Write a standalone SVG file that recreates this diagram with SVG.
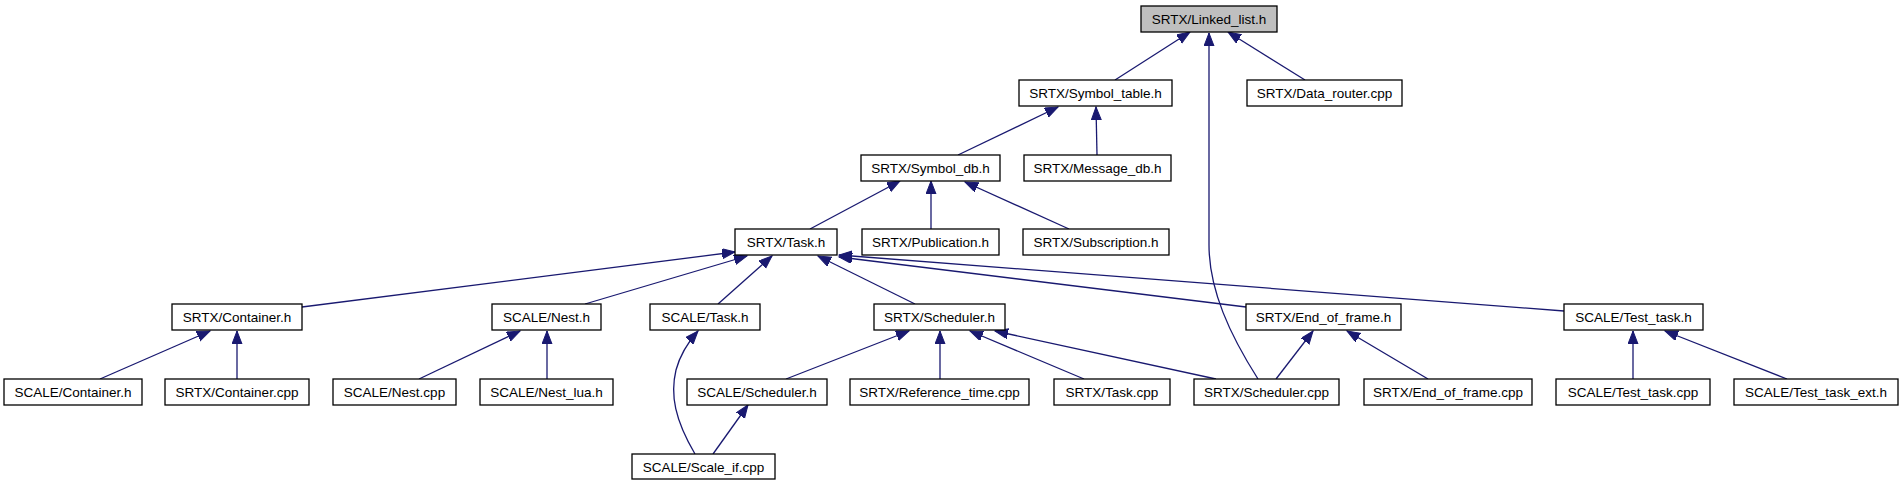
<svg xmlns="http://www.w3.org/2000/svg" width="1903" height="485" viewBox="0 0 1903 485">
<style>
.n rect{fill:#ffffff;stroke:#000000;stroke-width:1.3}
.n.root rect{fill:#bfbfbf}
.n text{font-family:"Liberation Sans",Arial,sans-serif;font-size:13.5px;fill:#000000;text-anchor:middle}
.e path{fill:none;stroke:#191970;stroke-width:1.3}
</style>
<defs>
<marker id="ah" markerUnits="userSpaceOnUse" markerWidth="16" markerHeight="12" refX="13" refY="5" orient="auto">
<path d="M0,0 L13,5 L0,10 z" fill="#191970" stroke="#191970" stroke-width="1"/>
</marker>
</defs>
<rect width="1903" height="485" fill="#ffffff"/>
<g id="edges" class="e">
<path marker-end="url(#ah)" d="M1115,80 L1190,32"/>
<path marker-end="url(#ah)" d="M1258,379 C1230,335 1209,290 1209,245 L1209,33"/>
<path marker-end="url(#ah)" d="M1305,80 L1228,32"/>
<path marker-end="url(#ah)" d="M958,155 L1058,107"/>
<path marker-end="url(#ah)" d="M1097,155 L1096,107"/>
<path marker-end="url(#ah)" d="M810,229 L900,181"/>
<path marker-end="url(#ah)" d="M931,229 L931,181"/>
<path marker-end="url(#ah)" d="M1069,229 L965,182"/>
<path marker-end="url(#ah)" d="M302,307 L735,252"/>
<path marker-end="url(#ah)" d="M585,304 L747,256"/>
<path marker-end="url(#ah)" d="M718,304 L772,256"/>
<path marker-end="url(#ah)" d="M915,304 L818,256"/>
<path marker-end="url(#ah)" d="M1246,307 L839,257"/>
<path marker-end="url(#ah)" d="M1564,311 L839,255"/>
<path marker-end="url(#ah)" d="M100,379 L210,331"/>
<path marker-end="url(#ah)" d="M237,379 L237,331"/>
<path marker-end="url(#ah)" d="M419,379 L520,331"/>
<path marker-end="url(#ah)" d="M547,379 L547,331"/>
<path marker-end="url(#ah)" d="M695,454 C675,420 670,395 676,370 C680,355 690,340 698,331"/>
<path marker-end="url(#ah)" d="M786,379 L909,331"/>
<path marker-end="url(#ah)" d="M940,379 L940,331"/>
<path marker-end="url(#ah)" d="M1084,379 L970,331"/>
<path marker-end="url(#ah)" d="M1216,379 L995,331"/>
<path marker-end="url(#ah)" d="M713,454 L748,405"/>
<path marker-end="url(#ah)" d="M1276,379 L1313,331"/>
<path marker-end="url(#ah)" d="M1428,379 L1347,331"/>
<path marker-end="url(#ah)" d="M1633,379 L1633,331"/>
<path marker-end="url(#ah)" d="M1787,379 L1665,331"/>
</g>
<g id="linked_list_h" class="n root"><rect x="1141" y="6" width="136" height="26"/><text x="1209" y="24">SRTX/Linked_list.h</text></g>
<g id="symbol_table_h" class="n"><rect x="1019" y="80" width="153" height="26"/><text x="1095.5" y="98">SRTX/Symbol_table.h</text></g>
<g id="data_router_cpp" class="n"><rect x="1247" y="80" width="155" height="26"/><text x="1324.5" y="98">SRTX/Data_router.cpp</text></g>
<g id="symbol_db_h" class="n"><rect x="861" y="155" width="139" height="26"/><text x="930.5" y="173">SRTX/Symbol_db.h</text></g>
<g id="message_db_h" class="n"><rect x="1024" y="155" width="147" height="26"/><text x="1097.5" y="173">SRTX/Message_db.h</text></g>
<g id="task_h" class="n"><rect x="735" y="229" width="102" height="26"/><text x="786" y="247">SRTX/Task.h</text></g>
<g id="publication_h" class="n"><rect x="862" y="229" width="137" height="26"/><text x="930.5" y="247">SRTX/Publication.h</text></g>
<g id="subscription_h" class="n"><rect x="1023" y="229" width="146" height="26"/><text x="1096" y="247">SRTX/Subscription.h</text></g>
<g id="container_h" class="n"><rect x="172" y="304" width="130" height="26"/><text x="237" y="322">SRTX/Container.h</text></g>
<g id="nest_h" class="n"><rect x="492" y="304" width="109" height="26"/><text x="546.5" y="322">SCALE/Nest.h</text></g>
<g id="scale_task_h" class="n"><rect x="650" y="304" width="110" height="26"/><text x="705" y="322">SCALE/Task.h</text></g>
<g id="scheduler_h" class="n"><rect x="874" y="304" width="131" height="26"/><text x="939.5" y="322">SRTX/Scheduler.h</text></g>
<g id="end_of_frame_h" class="n"><rect x="1246" y="304" width="155" height="26"/><text x="1323.5" y="322">SRTX/End_of_frame.h</text></g>
<g id="test_task_h" class="n"><rect x="1564" y="304" width="139" height="26"/><text x="1633.5" y="322">SCALE/Test_task.h</text></g>
<g id="scale_container_h" class="n"><rect x="4" y="379" width="138" height="26"/><text x="73" y="397">SCALE/Container.h</text></g>
<g id="container_cpp" class="n"><rect x="165" y="379" width="144" height="26"/><text x="237" y="397">SRTX/Container.cpp</text></g>
<g id="nest_cpp" class="n"><rect x="333" y="379" width="123" height="26"/><text x="394.5" y="397">SCALE/Nest.cpp</text></g>
<g id="nest_lua_h" class="n"><rect x="480" y="379" width="133" height="26"/><text x="546.5" y="397">SCALE/Nest_lua.h</text></g>
<g id="scale_scheduler_h" class="n"><rect x="687" y="379" width="140" height="26"/><text x="757" y="397">SCALE/Scheduler.h</text></g>
<g id="reference_time_cpp" class="n"><rect x="850" y="379" width="179" height="26"/><text x="939.5" y="397">SRTX/Reference_time.cpp</text></g>
<g id="task_cpp" class="n"><rect x="1054" y="379" width="116" height="26"/><text x="1112" y="397">SRTX/Task.cpp</text></g>
<g id="scheduler_cpp" class="n"><rect x="1194" y="379" width="145" height="26"/><text x="1266.5" y="397">SRTX/Scheduler.cpp</text></g>
<g id="end_of_frame_cpp" class="n"><rect x="1364" y="379" width="168" height="26"/><text x="1448" y="397">SRTX/End_of_frame.cpp</text></g>
<g id="test_task_cpp" class="n"><rect x="1556" y="379" width="154" height="26"/><text x="1633" y="397">SCALE/Test_task.cpp</text></g>
<g id="test_task_ext_h" class="n"><rect x="1734" y="379" width="164" height="26"/><text x="1816" y="397">SCALE/Test_task_ext.h</text></g>
<g id="scale_if_cpp" class="n"><rect x="632" y="454" width="143" height="25"/><text x="703.5" y="472">SCALE/Scale_if.cpp</text></g>
</svg>
